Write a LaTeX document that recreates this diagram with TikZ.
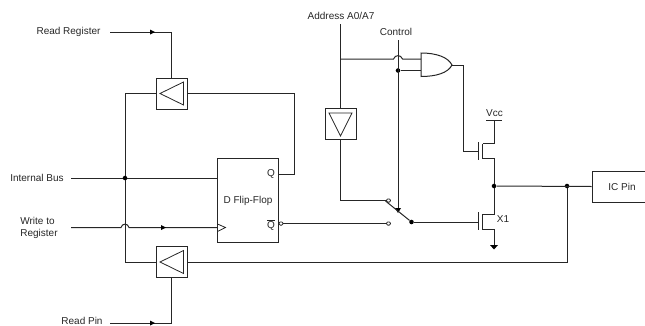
\documentclass[tikz,border=0pt]{standalone}
\usepackage{fontspec}
\setmainfont{Liberation Sans}
\begin{document}
\begin{tikzpicture}[x=0.75pt,y=-0.75pt,
  wire/.style={draw=black!85,line width=0.75pt,line join=miter},
  lbl/.style={inner sep=0pt,font=\fontsize{7.5}{9}\selectfont,text=black!85},
  pt/.style={circle,fill=black,draw=none,inner sep=0pt,minimum size=3.4pt},
  opn/.style={rectangle,rounded corners=0.8pt,fill=white,draw=black!85,line width=0.6pt,inner sep=0pt,minimum width=2.8pt,minimum height=2.4pt},
  boxn/.style={draw=black!85,line width=0.75pt,inner sep=0pt,minimum width=23.25pt,minimum height=23.25pt},
  flow/.style={fill=black,draw=none}]
\path[use as bounding box] (0,0) rectangle (645,325);
\clip (0,0) rectangle (645,325);
% Text labels
\node[lbl] (rr) at (68.5,32) {Read Register};
\node[lbl] (ib) at (37,178) {Internal Bus};
\node[lbl,align=left] (wr) at (39,227.5) {Write to\\Register};
\node[lbl] (rp) at (82,320.5) {Read Pin};
\node[lbl] (addr) at (341,16) {Address A0/A7};
\node[lbl] (ctl) at (396,32) {Control};
\node[lbl] (vcc) at (494.5,113) {Vcc};
\node[lbl] (x1) at (503,219.5) {X1};
% Free ends
\coordinate (rrs) at (110,32);
\coordinate (rps) at (110,323);
\coordinate (ibs) at (71,178);
\coordinate (wrs) at (71,227.5);
\coordinate (addrs) at (340.5,24);
\coordinate (ctls) at (398,40);
% Buffers
\node[boxn] (bu) at (171.5,93.5) {};
\node[boxn] (bl) at (171.5,262) {};
\node[boxn] (ba) at (340.5,124) {};
\draw[wire,line width=0.6pt] (160,93.5) -- (183.5,82) -- (183.5,105) -- cycle;
\draw[wire,line width=0.6pt] (160,262) -- (183.5,250.5) -- (183.5,273.5) -- cycle;
\draw[wire,line width=0.6pt] (329,113) -- (352,113) -- (340.5,136) -- cycle;
% Flip-flop
\node[draw=black!85,line width=0.75pt,inner sep=0pt,minimum width=46.1pt,minimum height=63pt] (ff) at (248.25,200.5) {};
\node[lbl] (dff) at (248,200.5) {D Flip-Flop};
\node[lbl] (q) at (271,173.5) {Q};
\node[lbl] (qb) at (271,225) {$\overline{\mbox{Q}}$};
\draw[wire,line width=0.6pt] (217.5,224) -- (225.5,227.5) -- (217.5,231.5);
\node[opn] (bub) at (281,223.5) {};
% IC pin
\node[draw=black!85,line width=0.75pt,inner sep=0pt,minimum width=46.5pt,minimum height=23.25pt] (ic) at (623,186.5) {};
\node[lbl] at (622,186.5) {IC Pin};
% AND gate
\node[inner sep=0pt,minimum size=0pt] (andout) at (452,65) {};
\draw[wire] (421,53) .. controls (436,53) and (448,57) .. (andout.center)
  .. controls (448,73) and (436,76.5) .. (421,76.5) -- cycle;
% Read Register / Read Pin
\draw[wire] (rrs) -- (171.5,32) -- (bu.north);
\fill[flow] (155,32) -- (150,29.5) -- (150,34.5) -- cycle;
\draw[wire] (rps) -- (171.5,323) -- (bl.south);
\fill[flow] (155,323) -- (150,320.5) -- (150,325.5) -- cycle;
% Bus loop
\draw[wire] (bu.west) -- (125,93.5) -- (125,262) -- (bl.west);
\draw[wire] (bu.east) -- (294.5,93.5) -- (294.5,174) -- (279,174);
\draw[wire] (ibs) -- (ff.west |- ibs);
\node[pt] (j1) at (125,178) {};
% Write to register, with jump
\draw[wire] (wrs) -- (121,227.5) .. controls (122,223) and (128,223) .. (129,227.5) -- (217.5,227.5);
\fill[flow] (166,227.5) -- (161,225) -- (161,230) -- cycle;
% Feedback from pin
\draw[wire] (bl.east) -- (567,262) -- (567,186);
\node[pt] (j2) at (567,186) {};
% Address
\draw[wire] (addrs) -- (ba.north);
\node[opn] (s1) at (388.5,200.5) {};
\node[opn] (s2) at (388.5,223.5) {};
\draw[wire] (ba.south) -- (340.5,200.5) -- (s1);
\draw[wire] (bub) -- (s2);
% Control
\node[pt] (j3) at (398,70.5) {};
\draw[wire] (ctls) -- (398,208);
\fill[flow] (398,213) -- (395,208) -- (401,208) -- cycle;
\draw[wire] (340.5,59) -- (393.5,59) .. controls (395,54.5) and (401,54.5) .. (402.5,59) -- (421,59);
\draw[wire] (j3) -- (421,70.5);
% Switch
\node[pt] (sw) at (411.5,222) {};
\draw[wire] (385.5,201) -- (sw);
% NMOS X1
\draw[wire] (sw) -- (478.5,222);
\draw[wire] (478.5,212) -- (478.5,230);
\draw[wire] (482.5,214) -- (482.5,230);
\draw[wire] (494,186) -- (494,214) -- (482.5,214);
\draw[wire] (482.5,229.5) -- (494,229.5) -- (494,246);
\fill[black] (490,245) -- (498,245) -- (494,249.5) -- cycle;
% PMOS top
\draw[wire] (andout.center) -- (463.5,65) -- (463.5,151) -- (478.5,151);
\draw[wire] (478.5,142) -- (478.5,160);
\draw[wire] (482.5,143.5) -- (482.5,159);
\draw[wire] (486,120.5) -- (502,120.5);
\draw[wire] (494,120.5) -- (494,143.5) -- (482.5,143.5);
\draw[wire] (482.5,158.5) -- (494,158.5) -- (494,186);
\node[pt] (j4) at (494,186) {};
\draw[wire] (j4) -- (ic.west);
\end{tikzpicture}
\end{document}
